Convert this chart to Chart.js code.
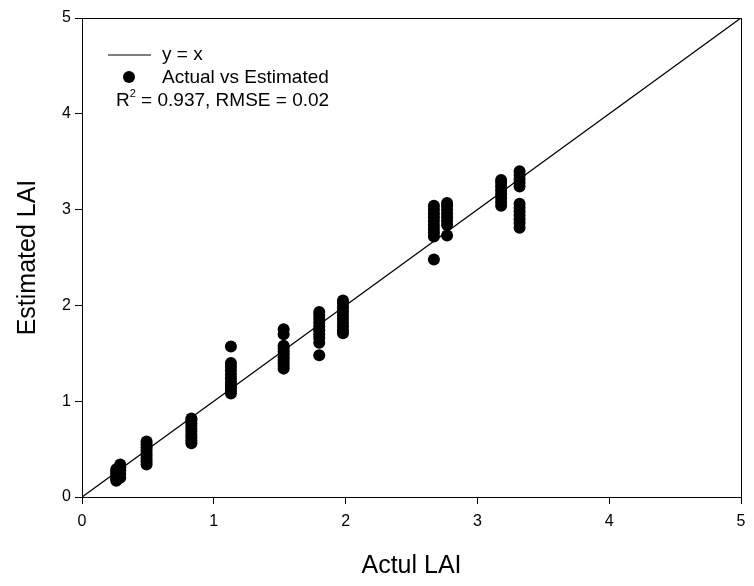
<!DOCTYPE html>
<html>
<head>
<meta charset="utf-8">
<script src="https://cdn.jsdelivr.net/npm/chart.js@4/dist/chart.umd.min.js"></script>
<style>
  html, body { margin: 0; padding: 0; background: #fff; }
  #wrap { width: 754px; height: 586px; }
</style>
</head>
<body>
<div id="wrap"><canvas id="c" width="754" height="586"></canvas></div>
<script>
// measured LAI: one array of estimates per actual LAI level
const actualLevels = [0.26, 0.29, 0.49, 0.83, 1.13, 1.53, 1.80, 1.98, 2.67, 2.77, 3.18, 3.32];
const estimatedByLevel = [
    [0.17, 0.19, 0.21, 0.23, 0.25, 0.27, 0.29],
    [0.20, 0.24, 0.28, 0.31, 0.34],
    [0.34, 0.37, 0.40, 0.43, 0.46, 0.49, 0.52, 0.55, 0.58],
    [0.56, 0.59, 0.62, 0.65, 0.68, 0.71, 0.74, 0.77, 0.80, 0.82],
    [1.08, 1.11, 1.14, 1.17, 1.20, 1.24, 1.28, 1.32, 1.36, 1.40, 1.57],
    [1.34, 1.37, 1.40, 1.43, 1.46, 1.49, 1.52, 1.55, 1.58, 1.70, 1.75],
    [1.48, 1.61, 1.66, 1.70, 1.74, 1.78, 1.82, 1.86, 1.90, 1.93],
    [1.71, 1.74, 1.78, 1.82, 1.86, 1.90, 1.94, 1.98, 2.02, 2.05],
    [2.48, 2.72, 2.76, 2.80, 2.84, 2.88, 2.92, 2.96, 3.00, 3.04],
    [2.73, 2.84, 2.88, 2.92, 2.96, 3.00, 3.04, 3.07],
    [3.04, 3.08, 3.12, 3.16, 3.20, 3.24, 3.28, 3.31],
    [2.81, 2.86, 2.90, 2.94, 2.98, 3.02, 3.06, 3.24, 3.28, 3.32, 3.36, 3.40]
];
const oneToOne = [0, 5];
const tickValues = [0, 1, 2, 3, 4, 5];
const legendLabels = ['y = x', 'Actual vs Estimated'];
const statsLabel = { r2: '0.937', rmse: '0.02' };

const FONT = '"Liberation Sans", Arial, sans-serif';

const points = [];
actualLevels.forEach((x, i) => {
    estimatedByLevel[i].forEach(y => points.push({ x: x, y: y }));
});

// box around the plot area + the hand-made legend
const framePlugin = {
    id: 'frame',
    afterDraw(chart) {
        const { ctx, chartArea: a } = chart;
        ctx.save();
        ctx.strokeStyle = '#000';
        ctx.lineWidth = 1;
        ctx.strokeRect(a.left + 0.5, a.top + 0.5, a.right - a.left, a.bottom - a.top);

        ctx.fillStyle = '#000';
        ctx.font = '19px ' + FONT;
        ctx.textBaseline = 'middle';
        ctx.lineWidth = 1.2;
        ctx.beginPath();
        ctx.moveTo(108, 55);
        ctx.lineTo(151, 55);
        ctx.stroke();
        ctx.fillText(legendLabels[0], 162, 55);

        ctx.beginPath();
        ctx.arc(129, 77, 6, 0, Math.PI * 2);
        ctx.fill();
        ctx.fillText(legendLabels[1], 162, 78);

        let x = 116;
        ctx.fillText('R', x, 101);
        x += ctx.measureText('R').width;
        ctx.font = '11px ' + FONT;
        ctx.fillText('2', x, 94);
        x += ctx.measureText('2').width;
        ctx.font = '19px ' + FONT;
        ctx.fillText(' = ' + statsLabel.r2 + ', RMSE = ' + statsLabel.rmse, x, 101);
        ctx.restore();
    }
};

new Chart(document.getElementById('c'), {
    type: 'scatter',
    data: {
        datasets: [
            {
                type: 'line',
                label: legendLabels[0],
                data: oneToOne.map(v => ({ x: v, y: v })),
                borderColor: '#000',
                borderWidth: 1.3,
                pointRadius: 0,
                fill: false
            },
            {
                label: legendLabels[1],
                data: points,
                backgroundColor: '#000',
                borderColor: '#000',
                borderWidth: 0,
                pointRadius: 6
            }
        ]
    },
    options: {
        responsive: false,
        animation: false,
        layout: { padding: { left: 0, right: 13, top: 18, bottom: 0 } },
        plugins: { legend: { display: false }, tooltip: { enabled: false } },
        scales: {
            x: {
                type: 'linear',
                min: 0, max: 5,
                afterBuildTicks: axis => { axis.ticks = tickValues.map(v => ({ value: v })); },
                afterFit: axis => { axis.height = 586 - 497; },
                grid: { drawOnChartArea: false, drawTicks: true, tickLength: 7, color: '#000' },
                border: { color: '#000', width: 1 },
                ticks: { color: '#000', font: { family: FONT, size: 16 }, padding: 8, maxRotation: 0 },
                title: { display: true, text: 'Actul LAI', color: '#000', font: { family: FONT, size: 25 }, padding: 5 }
            },
            y: {
                type: 'linear',
                min: 0, max: 5,
                afterBuildTicks: axis => { axis.ticks = tickValues.map(v => ({ value: v })); },
                afterFit: axis => { axis.width = 82; },
                grid: { drawOnChartArea: false, drawTicks: true, tickLength: 7, color: '#000' },
                border: { color: '#000', width: 1 },
                ticks: { color: '#000', font: { family: FONT, size: 16 }, padding: 4 },
                title: { display: true, text: 'Estimated LAI', color: '#000', font: { family: FONT, size: 25 }, padding: 13 }
            }
        }
    },
    plugins: [framePlugin]
});
</script>
</body>
</html>
